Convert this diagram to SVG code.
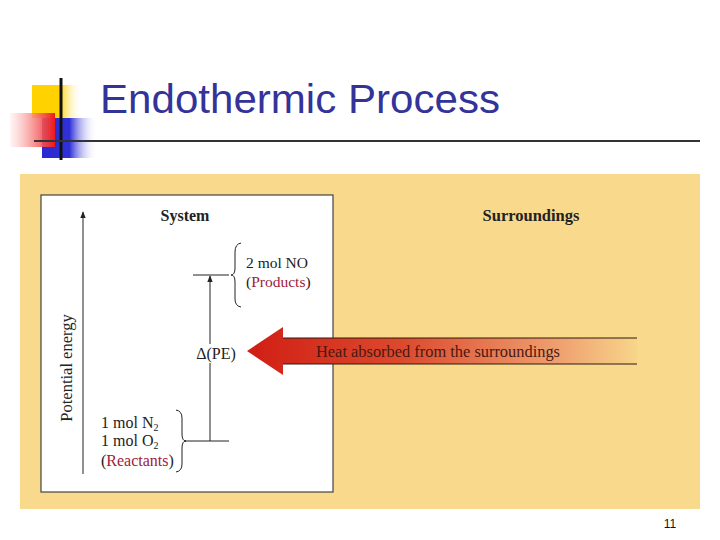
<svg xmlns="http://www.w3.org/2000/svg" width="720" height="540" viewBox="0 0 720 540">
<defs>
<linearGradient id="gy" x1="0" y1="0" x2="1" y2="0"><stop offset="0" stop-color="#ffd200"/><stop offset="0.55" stop-color="#ffd200"/><stop offset="1" stop-color="#fff" stop-opacity="0"/></linearGradient>
<linearGradient id="gr" x1="0" y1="0" x2="1" y2="0"><stop offset="0" stop-color="#fff0f0" stop-opacity="0.6"/><stop offset="1" stop-color="#f01818"/></linearGradient>
<linearGradient id="gb" x1="0" y1="0" x2="1" y2="0"><stop offset="0" stop-color="#2a2ad0"/><stop offset="0.5" stop-color="#3030d8"/><stop offset="1" stop-color="#fff" stop-opacity="0"/></linearGradient>
<linearGradient id="gh" x1="0" y1="0" x2="1" y2="0"><stop offset="0" stop-color="#d01e14"/><stop offset="0.4" stop-color="#dc4a2e"/><stop offset="0.8" stop-color="#efa070"/><stop offset="1" stop-color="#f8d58a"/></linearGradient>
<marker id="ah" viewBox="0 0 10 10" refX="9" refY="5" markerWidth="7" markerHeight="9" markerUnits="userSpaceOnUse" orient="auto"><path d="M0,1 L10,5 L0,9 Z" fill="#222"/></marker>
<style>
.serif{font-family:"Liberation Serif","DejaVu Serif",serif;fill:#222;font-size:16px}
.red{fill:#a0203a}
.ln{stroke:#222;stroke-width:1;fill:none}
</style>
</defs>
<rect width="720" height="540" fill="#fff"/>
<g id="logo">
<rect x="32" y="85" width="50" height="33" fill="url(#gy)"/>
<rect x="42" y="118" width="55" height="40" fill="url(#gb)"/>
<rect x="10" y="113" width="45" height="34" fill="url(#gr)"/>
<line x1="61" y1="78" x2="61" y2="160" stroke="#111" stroke-width="3"/>
<line x1="34" y1="141" x2="700" y2="141" stroke="#333" stroke-width="2"/>
</g>
<text x="100" y="113" font-family="'Liberation Sans','DejaVu Sans',sans-serif" font-size="41" fill="#333399" textLength="400" lengthAdjust="spacingAndGlyphs">Endothermic Process</text>
<rect x="20" y="174" width="680" height="335" fill="#f9d98b"/>
<g id="system-box">
<rect x="41" y="195" width="292" height="297" fill="#fff" stroke="#444" stroke-width="1.2"/>
<text x="185" y="221" text-anchor="middle" class="serif" font-weight="bold">System</text>
</g>
<text x="531" y="221" text-anchor="middle" class="serif" font-weight="bold" style="font-size:16.5px">Surroundings</text>
<g id="connectors">
<line x1="83" y1="474" x2="83" y2="212" class="ln" marker-end="url(#ah)"/>
<line x1="193" y1="275" x2="229" y2="275" class="ln"/>
<line x1="184" y1="441" x2="229" y2="441" class="ln" stroke-width="1.3"/>
<line x1="210" y1="441" x2="210" y2="276" class="ln" marker-end="url(#ah)"/>
</g>
<text transform="translate(72,368) rotate(-90)" text-anchor="middle" class="serif" style="font-size:16.5px">Potential energy</text>
<g id="products">
<path d="M241,243 Q235,244 235,252 L235,268 Q235,275 231,275 Q235,275 235,282 L235,299 Q235,306 241,307" class="ln" stroke-width="0.9"/>
<text x="246" y="268" class="serif" style="font-size:15.5px">2 mol NO</text>
<text x="246" y="287" class="serif" style="font-size:15.5px">(<tspan class="red">Products</tspan>)</text>
</g>
<g id="reactants">
<path d="M176,410 Q182,411 182,418 L182,434 Q182,441 186,441 Q182,441 182,448 L182,464 Q182,471 176,472" class="ln" stroke-width="0.9"/>
<text x="101" y="428" class="serif">1 mol N<tspan font-size="10" dy="3">2</tspan></text>
<text x="101" y="446" class="serif">1 mol O<tspan font-size="10" dy="3">2</tspan></text>
<text x="101" y="466" class="serif">(<tspan class="red">Reactants</tspan>)</text>
</g>
<g id="delta">
<rect x="195" y="344" width="42" height="19" fill="#fff"/>
<text x="216" y="359" text-anchor="middle" class="serif">Δ(PE)</text>
</g>
<g id="heat">
<path d="M247,351 L283,327 L283,338 L637,338 L637,364 L283,364 L283,375 Z" fill="url(#gh)"/>
<line x1="283" y1="338" x2="637" y2="338" stroke="#2a1a10" stroke-width="1"/>
<line x1="283" y1="364" x2="637" y2="364" stroke="#2a1a10" stroke-width="1"/>
<text x="316" y="357" class="serif" style="fill:#4a1810;font-size:16.4px">Heat absorbed from the surroundings</text>
</g>
<text x="670" y="528" text-anchor="middle" font-family="'Liberation Sans','DejaVu Sans',sans-serif" font-size="12" fill="#111">11</text>
</svg>
